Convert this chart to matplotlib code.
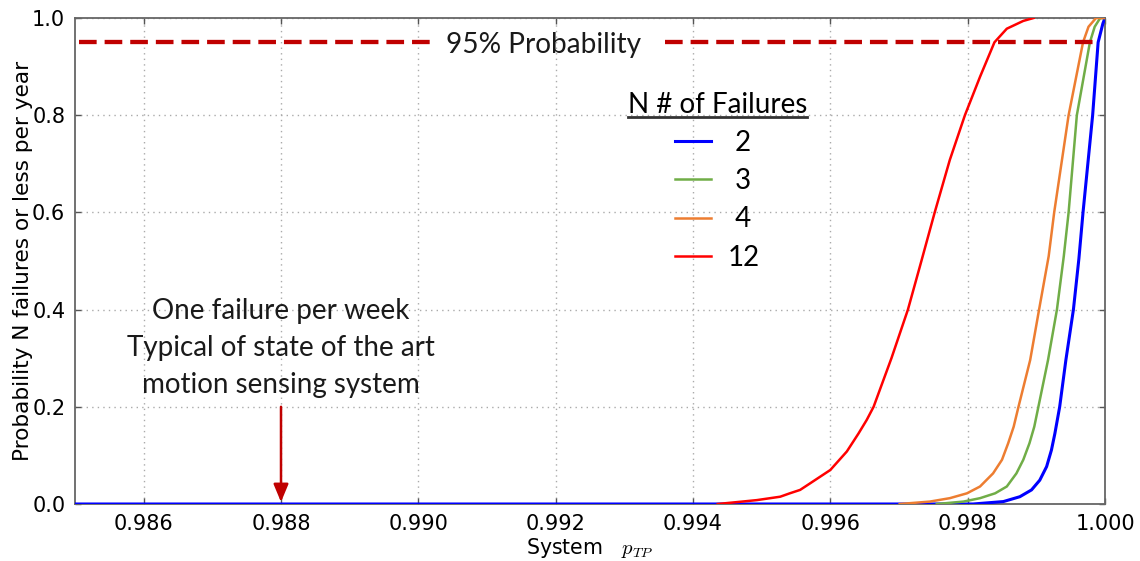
import matplotlib
matplotlib.use("Agg")
import matplotlib.pyplot as plt
from matplotlib.font_manager import FontProperties
from matplotlib.lines import Line2D

plt.rcParams["font.family"] = ["DejaVu Sans"]
plt.rcParams["mathtext.fontset"] = "cm"

# ---------------- data ----------------
n2_x = [0.98500, 0.99808, 0.99852, 0.99876, 0.99893, 0.99905, 0.99915, 0.99922,
        0.99927, 0.99934, 0.99943, 0.99954, 0.99962, 0.99968, 0.99982, 0.99990,
        0.99997, 1.00000]
n2_y = [0.000, 0.000, 0.005, 0.015, 0.029, 0.049, 0.077, 0.111,
        0.145, 0.200, 0.296, 0.400, 0.505, 0.600, 0.800, 0.950,
        0.989, 1.000]

n3_x = [0.99755, 0.99794, 0.99818, 0.99840, 0.99857, 0.99871, 0.99881, 0.99890,
        0.99897, 0.99903, 0.99917, 0.99930, 0.99940, 0.99947, 0.99959, 0.99978,
        0.99985, 0.99993, 1.00000]
n3_y = [0.000, 0.005, 0.012, 0.022, 0.036, 0.063, 0.091, 0.125,
        0.159, 0.200, 0.296, 0.400, 0.510, 0.600, 0.800, 0.950,
        0.982, 1.000, 1.000]

n4_x = [0.99701, 0.99745, 0.99774, 0.99799, 0.99818, 0.99837, 0.99850, 0.99859,
        0.99867, 0.99874, 0.99891, 0.99904, 0.99918, 0.99926, 0.99947, 0.99968,
        0.99976, 0.99987, 1.00000]
n4_y = [0.000, 0.005, 0.012, 0.022, 0.036, 0.063, 0.091, 0.125,
        0.159, 0.200, 0.296, 0.400, 0.510, 0.600, 0.800, 0.950,
        0.982, 1.000, 1.000]

n12_x = [0.99436, 0.99493, 0.99527, 0.99541, 0.99556, 0.99570, 0.99600, 0.99624,
         0.99641, 0.99653, 0.99663, 0.99689, 0.99713, 0.99733, 0.99752, 0.99774,
         0.99796, 0.99818, 0.99839, 0.99857, 0.99881, 0.99896]
n12_y = [0.000, 0.008, 0.015, 0.022, 0.029, 0.042, 0.070, 0.108,
         0.145, 0.173, 0.200, 0.300, 0.400, 0.502, 0.600, 0.708,
         0.800, 0.879, 0.950, 0.978, 0.994, 1.000]

series_labels = [" 2", " 3", " 4", "12"]
series_colors = ["#0000FF", "#70AD47", "#ED7D31", "#FF0000"]

threshold_y = 0.95
threshold_segments = [(0.98506, 0.99021), (0.99359, 0.99990)]
threshold_label = "95% Probability"
threshold_label_x = 0.99182

marker_x = 0.988
marker_text = "One failure per week\nTypical of state of the art\nmotion sensing system"

xticks = [0.986, 0.988, 0.990, 0.992, 0.994, 0.996, 0.998, 1.000]
yticks = [0.0, 0.2, 0.4, 0.6, 0.8, 1.0]

# ---------------- figure ----------------
fig = plt.figure(figsize=(11.4, 5.61), dpi=100)
ax = fig.add_axes([75 / 1140, 1 - 504 / 561, 1030 / 1140, 486 / 561])

lat = ["Lato", "DejaVu Sans"]

lines = []
for xs, ys, lab, col, lw in zip([n2_x, n3_x, n4_x, n12_x], [n2_y, n3_y, n4_y, n12_y],
                                series_labels, series_colors, [2.2, 1.8, 1.8, 1.8]):
    ln, = ax.plot(xs, ys, color=col, lw=lw, label=lab, zorder=3)
    lines.append(ln)

for x0, x1 in threshold_segments:
    ax.plot([x0, x1], [threshold_y, threshold_y], color="#C00000", lw=3.1,
            dashes=(4.1, 1.85), zorder=4)
ax.text(threshold_label_x, 0.9275, threshold_label, ha="center", va="baseline",
        fontsize=20.2, family=lat, color="#1a1a1a")

ax.text(marker_x, 0.2278, marker_text, ha="center", va="baseline", fontsize=20,
        family=lat, linespacing=1.53, multialignment="center", color="#1a1a1a")
ax.annotate("", xy=(marker_x, 0.004), xytext=(marker_x, 0.2),
            arrowprops=dict(arrowstyle="-|>,head_length=0.6,head_width=0.25",
                            mutation_scale=18, color="#C00000", lw=1.8,
                            shrinkA=0, shrinkB=0), zorder=5)

ax.set_xlim(0.985, 1.000)
ax.set_ylim(0.0, 1.0)
ax.set_xticks(xticks)
ax.set_yticks(yticks)
ax.set_xticklabels([f"{v:.3f}" for v in xticks])
ax.set_yticklabels([f"{v:.1f}" for v in yticks])
ax.tick_params(direction="in", top=True, right=True, length=4, width=1,
               color="#555555", labelsize=15, pad=7)
ax.grid(True, linestyle=(0, (1, 3)), color="#aaaaaa", lw=1)
for s in ax.spines.values():
    s.set_color("#666666")
    s.set_linewidth(1.3)

ax.set_xlabel("System   $p_{TP}$", fontsize=14.8, labelpad=2)
ax.set_ylabel("Probability N failures or less per year", fontsize=15.6, labelpad=-1)

leg = ax.legend(handles=lines, title="N # of Failures", loc="upper center",
                bbox_to_anchor=(0.624, 0.877), frameon=False,
                prop=FontProperties(family=lat, size=20),
                title_fontproperties=FontProperties(family=lat, size=20),
                handlelength=1.3, handletextpad=0.6, labelspacing=0.44,
                borderpad=0.0)
fig.canvas.draw()
bb = leg.get_title().get_window_extent(fig.canvas.get_renderer())
fig.add_artist(Line2D([bb.x0, bb.x1], [bb.y0 + 1, bb.y0 + 1], color="#333333",
                      lw=2, transform=None))

fig.savefig("out.png", dpi=100, facecolor="white")
